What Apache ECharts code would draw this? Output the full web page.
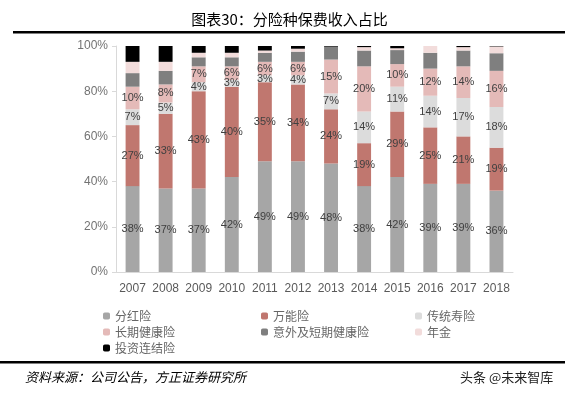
<!DOCTYPE html>
<html>
<head>
    <meta charset="utf-8">
    <title>分险种保费收入占比</title>
    <script src="https://cdn.jsdelivr.net/npm/echarts@6/dist/echarts.min.js"></script>
</head>
<body style="margin:0;background:#fff;">
<div id="main" style="width:579px;height:399px;"></div>
<script type="text/javascript">
    // 数据（读图估计，单位 %）
    var years = ['2007','2008','2009','2010','2011','2012','2013','2014','2015','2016','2017','2018'];
    var fenhong   = [38, 37, 37, 42, 49, 49, 48, 38, 42, 39, 39, 36];   // 分红险
    var wanneng   = [27, 33, 43, 40, 35, 34, 24, 19, 29, 25, 21, 19];   // 万能险
    var chuantong = [7, 5, 4, 3, 3, 4, 7, 14, 11, 14, 17, 18];          // 传统寿险
    var changqi   = [10, 8, 7, 6, 6, 6, 15, 20, 10, 12, 14, 16];        // 长期健康险
    var yiwai     = [6, 6, 4, 4, 4, 4.5, 5.7, 7, 6.2, 7, 7, 7.8];        // 意外及短期健康险
    var nianjin   = [5, 4, 2, 2, 1, 1.3, 0, 1.5, 0.8, 3, 1.5, 3];        // 年金
    var touzi     = [7, 7, 3, 3, 2, 1.2, 0.3, 0.5, 1, 0, 0.5, 0.2];      // 投资连结险
    var yTicks = [0, 20, 40, 60, 80, 100];

    var myChart = echarts.init(document.getElementById('main'));
    var font = '"Noto Sans CJK SC", sans-serif';

    function bar(name, data, color, showLabel) {
        return {
            name: name,
            type: 'bar',
            stack: 'all',
            barWidth: '42%',
            data: data,
            itemStyle: { color: color },
            label: {
                show: showLabel,
                position: 'inside',
                formatter: function (p) { return Math.round(p.value) + '%'; },
                color: '#404040',
                fontSize: 11,
                fontFamily: 'Arial, sans-serif'
            }
        };
    }

    var legendText = { color: '#666', fontSize: 12, fontFamily: font };

    var option = {
        animation: false,
        title: {
            text: '图表30：分险种保费收入占比',
            left: 'center',
            top: 7,
            textStyle: { fontSize: 15, fontWeight: 'normal', color: '#000', fontFamily: font }
        },
        grid: { left: 116, right: 66, top: 46, bottom: 127 },
        legend: [
            { left: 98, top: 305, orient: 'vertical', itemGap: 4, itemWidth: 7, itemHeight: 7,
              data: ['分红险', '长期健康险', '投资连结险'], textStyle: legendText },
            { left: 256, top: 305, orient: 'vertical', itemGap: 4, itemWidth: 7, itemHeight: 7,
              data: ['万能险', '意外及短期健康险'], textStyle: legendText },
            { left: 410, top: 305, orient: 'vertical', itemGap: 4, itemWidth: 7, itemHeight: 7,
              data: ['传统寿险', '年金'], textStyle: legendText }
        ],
        xAxis: {
            type: 'category',
            data: years,
            axisLine: { lineStyle: { color: '#d9d9d9' } },
            axisTick: { show: false },
            axisLabel: { color: '#595959', fontSize: 12, fontFamily: 'Arial, sans-serif', margin: 11, interval: 0 }
        },
        yAxis: {
            type: 'value',
            min: yTicks[0],
            max: yTicks[yTicks.length - 1],
            interval: 20,
            splitLine: { show: false },
            axisLine: { show: true, lineStyle: { color: '#d9d9d9' } },
            axisTick: { show: true, inside: false, length: 4, lineStyle: { color: '#d9d9d9' } },
            axisLabel: { color: '#737373', fontSize: 12, fontFamily: 'Arial, sans-serif', margin: 8,
                         formatter: '{value}%' }
        },
        series: [
            bar('分红险', fenhong, '#a6a6a6', true),
            bar('万能险', wanneng, '#c0776f', true),
            bar('传统寿险', chuantong, '#dcdcdc', true),
            bar('长期健康险', changqi, '#e4bab8', true),
            bar('意外及短期健康险', yiwai, '#7f7f7f', false),
            bar('年金', nianjin, '#f2dcdb', false),
            bar('投资连结险', touzi, '#000000', false)
        ],
        graphic: [
            { type: 'rect', shape: { x: 13, y: 31, width: 552, height: 2.5 }, style: { fill: '#000' } },
            { type: 'rect', shape: { x: 0, y: 361, width: 565, height: 2.5 }, style: { fill: '#000' } },
            { type: 'text', left: 25, top: 371,
              style: { text: '资料来源：公司公告，方正证券研究所', fill: '#000', fontSize: 13,
                       fontStyle: 'italic', fontFamily: font } },
            { type: 'text', left: 460, top: 371,
              style: { text: '头条 @未来智库', fill: '#222', fontSize: 13, fontFamily: font } }
        ]
    };
    myChart.setOption(option);
</script>
</body>
</html>
